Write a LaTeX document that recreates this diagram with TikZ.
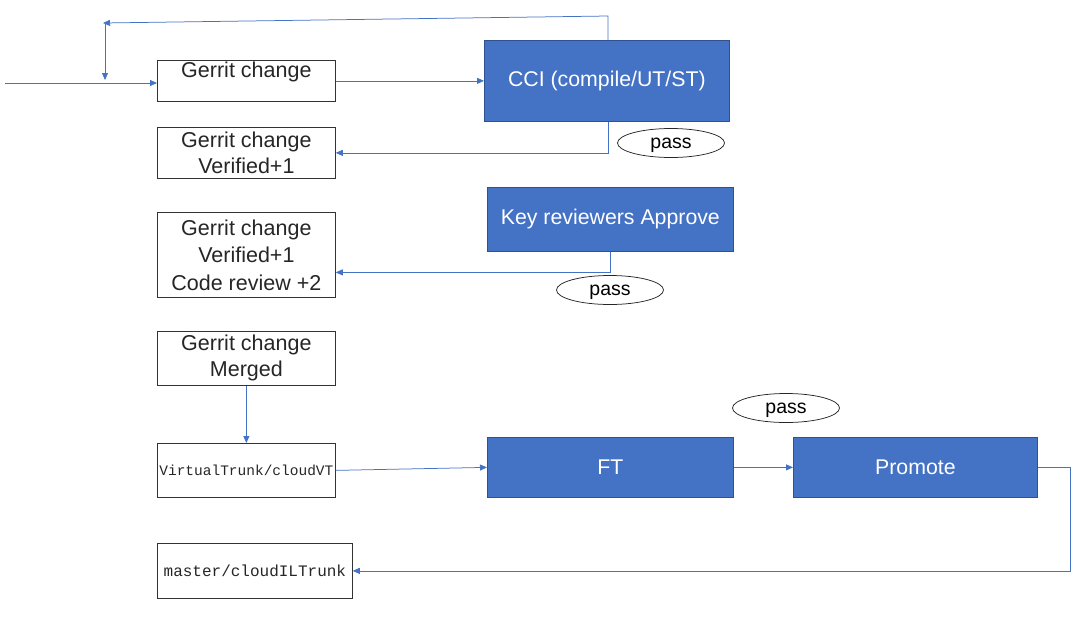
\documentclass[tikz,border=0pt]{standalone}
\usepackage{fontspec}
\setmainfont{Liberation Sans}
\setmonofont{Liberation Mono}
\usetikzlibrary{arrows.meta,shapes.geometric,calc}
\definecolor{flowblue}{HTML}{4472C4}
\definecolor{flowedge}{HTML}{2F528F}
\definecolor{textgray}{HTML}{262626}

\begin{document}
\begin{tikzpicture}[x=1pt, y=-1pt, line width=0.75pt, >={Triangle[length=7pt,width=6pt]},
  gerrit/.style={rectangle, draw=black!80, text=textgray, minimum width=178pt, align=center,
                 inner sep=2pt, anchor=north west, font=\fontsize{21.5}{26}\selectfont},
  stage/.style={rectangle, draw=flowedge, fill=flowblue, text=white, anchor=north west,
                font=\fontsize{21.3}{24}\selectfont},
  pass/.style={ellipse, draw=black!85, minimum width=107pt, minimum height=29pt, inner sep=0pt,
               text height=10pt, text depth=0pt, font=\fontsize{19.5}{22}\selectfont},
  flow/.style={draw=flowblue, ->}]
  \useasboundingbox (0,0) rectangle (1081,627);

  % gerrit states
  \node[gerrit, text height=15pt, text depth=22pt, inner ysep=2pt] (g1) at (157,60) {Gerrit change};
  \node[gerrit, minimum height=51pt] (g2) at (157,127) {Gerrit change\\Verified+1};
  \node[gerrit, minimum height=85pt, font=\fontsize{21.5}{27.5}\selectfont] (g3) at (157,212) {Gerrit change\\Verified+1\\Code review +2};
  \node[gerrit, minimum height=54pt] (g4) at (157,331) {Gerrit change\\Merged};
  \node[gerrit, minimum height=54pt, inner xsep=1pt, font=\ttfamily\fontsize{14.5}{16}\selectfont] (vt) at (157,443) {VirtualTrunk/cloudVT};
  \node[gerrit, minimum width=195pt, minimum height=55pt, font=\ttfamily\fontsize{16}{18}\selectfont] (master) at (157,543) {master/cloudILTrunk};

  % pipeline stages
  \node[stage, minimum width=245pt, minimum height=81pt] (cci) at (484,40) {CCI (compile/UT/ST)};
  \node[stage, minimum width=246pt, minimum height=64pt] (kr) at (487,187) {Key reviewers Approve};
  \node[stage, minimum width=246pt, minimum height=60pt] (ft) at (487,437) {FT};
  \node[stage, minimum width=244pt, minimum height=60pt] (promote) at (793,437) {Promote};

  \node[pass] (pass1) at (671,143) {pass};
  \node[pass] (pass2) at (610,290) {pass};
  \node[pass] (pass3) at (786,408) {pass};

  \coordinate (entry) at (5,83);
  \coordinate (loopR) at (608,16);
  \coordinate (loopL) at (103,23);
  \coordinate (loopT) at (105,24);
  \coordinate (loopB) at (105,80);

  \draw[flow] (entry) -- (g1.west |- entry);
  \draw[flow] (cci.north -| loopR) -- (loopR) -- (loopL);
  \draw[flow] (loopT) -- (loopB);
  \draw[flow] (g1.east) -- (cci.west);
  \draw[flow] (cci.south -| loopR) |- (g2.east);
  \draw[flow] (kr.south) |- ($(g3.east)+(0,17.5)$);
  \draw[flow] (g4) -- (vt);
  \draw[flow] (vt.east) -- (ft.west);
  \draw[flow] (ft) -- (promote);
  \draw[flow] (promote.east) -- ++(33,0) |- (master.east);

\end{tikzpicture}
\end{document}
